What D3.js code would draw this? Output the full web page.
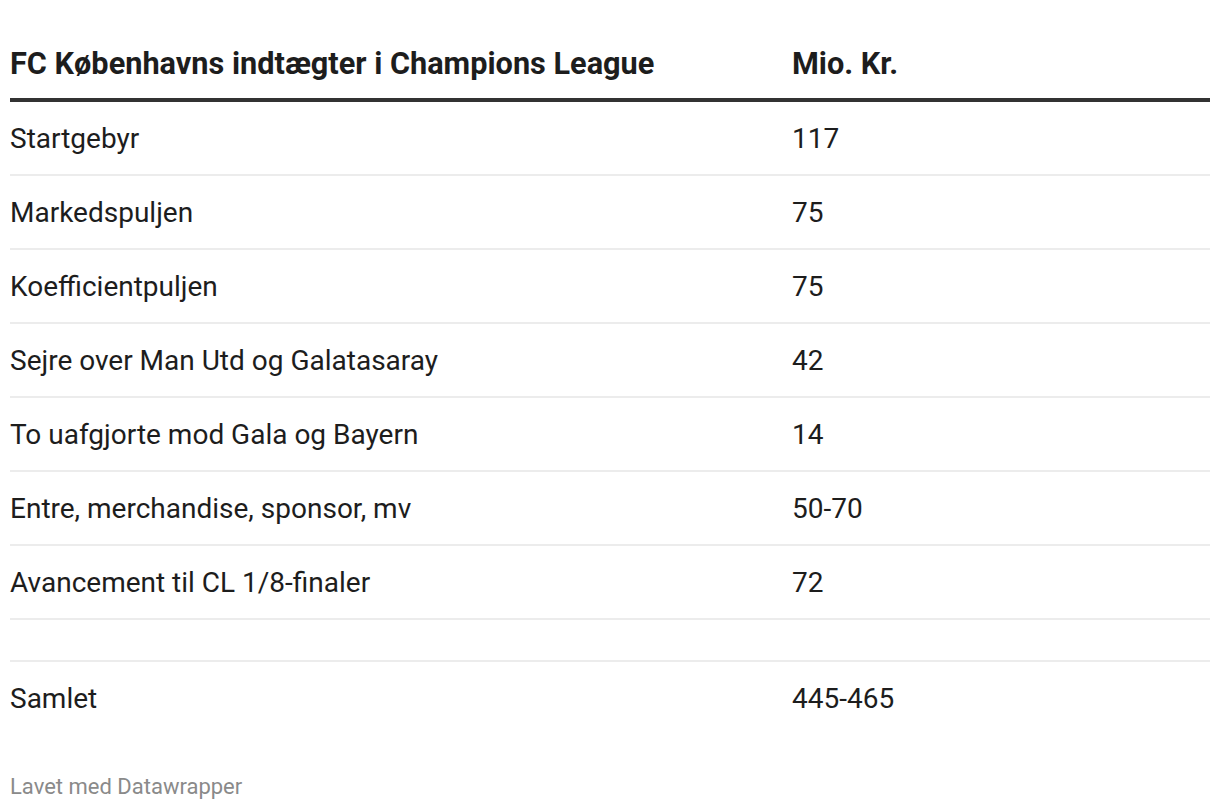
<!DOCTYPE html>
<html>
<head>
<meta charset="utf-8">
<script src="https://cdn.jsdelivr.net/npm/d3@7"></script>
<style>
  html, body { margin: 0; padding: 0; background: #fff; }
  svg { display: block; font-family: Roboto, "Noto Sans", sans-serif; }
</style>
</head>
<body>
<svg id="chart" width="1220" height="810"></svg>
<script>
const headers = ["FC Københavns indtægter i Champions League", "Mio. Kr."];
const categories = [
  "Startgebyr",
  "Markedspuljen",
  "Koefficientpuljen",
  "Sejre over Man Utd og Galatasaray",
  "To uafgjorte mod Gala og Bayern",
  "Entre, merchandise, sponsor, mv",
  "Avancement til CL 1/8-finaler",
  "",
  "Samlet"
];
const values = ["117", "75", "75", "42", "14", "50-70", "72", "", "445-465"];
const footer = "Lavet med Datawrapper";

const left = 10, right = 1210, col2 = 792;
const svg = d3.select("#chart");

// header
const headerBaseline = 74;
svg.selectAll("text.head").data(headers).join("text")
  .attr("class", "head")
  .attr("x", (d, i) => i === 0 ? left : col2)
  .attr("y", headerBaseline)
  .attr("font-size", 30.7)
  .attr("font-weight", 700)
  .attr("fill", "#1d1d1d")
  .text(d => d);

svg.append("rect").attr("x", left).attr("y", 98).attr("width", right - left).attr("height", 4).attr("fill", "#333");

// rows
const rows = categories.map((c, i) => ({ cat: c, val: values[i], h: c === "" ? 42 : 74 }));
let y0 = 102;
rows.forEach(r => { r.y = y0; y0 += r.h; });

const g = svg.selectAll("g.row").data(rows).join("g").attr("class", "row")
  .attr("transform", d => `translate(0,${d.y})`);

g.filter((d, i) => i < rows.length - 1).append("rect")
  .attr("x", left).attr("y", d => d.h - 2).attr("width", right - left).attr("height", 2)
  .attr("fill", "#ececec");

g.append("text").attr("x", left).attr("y", d => (d.h - 2) / 2 + 10)
  .attr("font-size", 28).attr("fill", "#1d1d1d").text(d => d.cat);
g.append("text").attr("x", col2).attr("y", d => (d.h - 2) / 2 + 10)
  .attr("font-size", 28).attr("fill", "#1d1d1d").text(d => d.val);

svg.append("text").attr("x", left).attr("y", 794)
  .attr("font-size", 22).attr("fill", "#8a8a8a").text(footer);
</script>
</body>
</html>
